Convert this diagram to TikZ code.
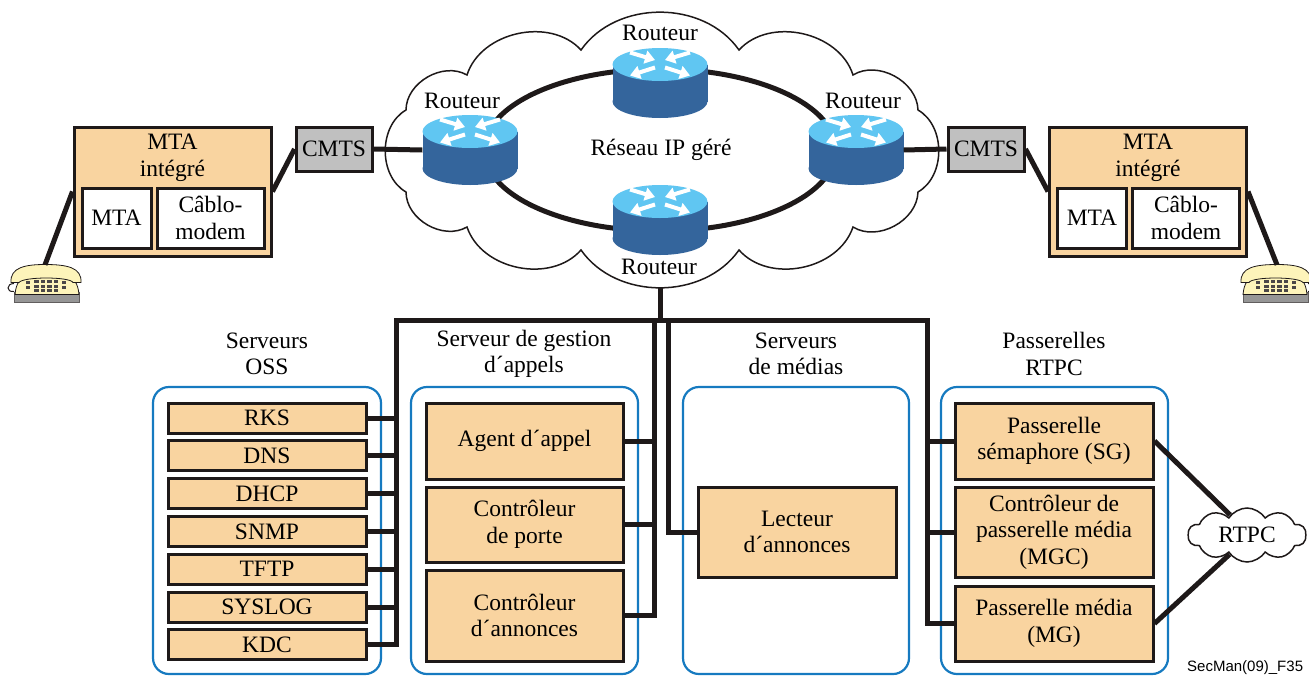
\documentclass[tikz,border=0pt]{standalone}
\usepackage{fontspec}
\setmainfont{Liberation Serif}
\newfontfamily\labelsans{Liberation Sans}
\usetikzlibrary{shapes.symbols, arrows.meta}

\definecolor{boxtan}{RGB}{249,212,160}
\definecolor{cmtsgray}{RGB}{192,192,192}
\definecolor{groupblue}{RGB}{22,122,192}
\definecolor{routertop}{RGB}{96,198,242}
\definecolor{routerside}{RGB}{52,101,156}
\definecolor{phonecream}{RGB}{253,244,186}
\definecolor{phonebase}{RGB}{150,150,150}
\definecolor{linedark}{RGB}{30,25,25}

\tikzset{
  bus/.style={draw=linedark, line width=5},
  itembox/.style={draw=linedark, line width=3, fill=boxtan, inner sep=0, align=center},
  whitebox/.style={draw=linedark, line width=3, fill=white, inner sep=0, align=center},
  cmtsbox/.style={draw=linedark, line width=3, fill=cmtsgray, inner sep=0},
  groupbox/.style={draw=groupblue, line width=2.2, rounded corners=16, inner sep=0},
  cloudline/.style={draw=linedark, line width=1.5, fill=white},
  rarrow/.style={white, line width=4, -{Triangle[width=13pt,length=10pt]}},
  plain/.style={inner sep=0, align=center},
}

% Router: blue cylinder with four white arrows on its top face
\newcommand\netrouter[3]{%
  \node[minimum width=95, minimum height=70, inner sep=0] (#1) at (#2,#3) {};
  \begin{scope}[shift={(#2,#3)}]
    \fill[routerside] (-47.5,-18.5) rectangle (47.5,18.5);
    \fill[routerside] (0,18.5) ellipse [x radius=47.5, y radius=16.5];
    \fill[routertop] (0,-18.5) ellipse [x radius=47.5, y radius=16.5];
    \draw[rarrow] (-30,-30.5) -- (-5,-23);
    \draw[rarrow] (-5,-15.5) -- (-30,-7.5);
    \draw[rarrow] (30,-30.5) -- (5,-23);
    \draw[rarrow] (5,-15.5) -- (30,-7.5);
  \end{scope}}

% Desk telephone; last argument 1 or -1 mirrors it
\newcommand\phoneicon[4]{%
  \node[minimum width=72, minimum height=37, inner sep=0] (#1) at (#2,#3) {};
  \begin{scope}[shift={(#2,#3)}, xscale=#4]
    \filldraw[fill=phonebase, draw=linedark!70, line width=0.6] (-31,9) rectangle (34,18.5);
    \filldraw[fill=phonecream, draw=linedark, line width=0.8]
      (-30,11) .. controls (-29,0) and (-25,-6) .. (-18,-7) -- (22,-7)
      .. controls (29,-6) and (33,0) .. (34,11) -- cycle;
    \filldraw[fill=phonecream, draw=linedark, line width=0.8]
      (-34,-1) .. controls (-35,-16) and (-20,-19) .. (0,-19)
      .. controls (22,-19) and (37,-16) .. (36,-1) -- (28,-1)
      .. controls (25,-7) and (-22,-7) .. (-26,-1) -- cycle;
    \foreach \i in {0,...,3}
      \foreach \j in {0,1,2}
        \fill[linedark!80] ({-11+6.5*\i},{-3.5+4.5*\j}) rectangle ++(4.5,3);
    \fill[linedark!80] (-19,-3) rectangle ++(4,3);
    \fill[linedark!80] (-19,2) rectangle ++(4,3);
    \fill[linedark!80] (17,-3) rectangle ++(4,3);
    \fill[linedark!80] (17,2) rectangle ++(4,3);
    \draw[linedark, line width=1] (-31,0) .. controls (-39,0) and (-39,9) .. (-31,8);
  \end{scope}}

\begin{document}
\begin{tikzpicture}[x=1pt, y=-1pt, font=\fontsize{23.5}{26.5}\selectfont]
\useasboundingbox (0,0) rectangle (1309,675);

% ---------- managed IP network ----------
\draw[cloudline] (581,50) to[bend left=55] (739,50) to[bend left=60] (853,75)
  to[bend left=60] (918,110) to[bend left=60] (918,192) to[bend left=60] (853,227)
  to[bend left=60] (739,250) to[bend left=55] (581,250) to[bend left=60] (467,227)
  to[bend left=60] (406,192) to[bend left=60] (406,110) to[bend left=60] (467,75)
  to[bend left=60] (581,50) -- cycle;
\coordinate (netS) at (660,287);

\draw[linedark, line width=5] (660,150) ellipse [x radius=176, y radius=81];

\netrouter{rT}{660}{83}
\netrouter{rL}{470}{150}
\netrouter{rR}{856}{150}
\netrouter{rB}{660}{220}

\node[plain] (lblT) at (660,33) {Routeur};
\node[plain] (lblL) at (462,101) {Routeur};
\node[plain] (lblR) at (863,101) {Routeur};
\node[plain] (lblB) at (659,267) {Routeur};
\node[plain] (ipnet) at (661,150) {Réseau IP géré};

% ---------- access side ----------
\node[cmtsbox, minimum width=76, minimum height=44] (cmtsL) at (334,149) {CMTS};
\node[cmtsbox, minimum width=76, minimum height=44] (cmtsR) at (986,149) {CMTS};

\node[itembox, minimum width=197, minimum height=129] (mtaL) at (172.5,191.5) {};
\node[plain] (mtaLt) at (172.5,158) {MTA\\intégré};
\node[whitebox, minimum width=69, minimum height=60] (mtaLa) at (116.5,218) {MTA};
\node[whitebox, minimum width=107, minimum height=60] (mtaLb) at (210.5,218) {Câblo-\\modem};

\node[itembox, minimum width=197, minimum height=129] (mtaR) at (1148,191.5) {};
\node[plain] (mtaRt) at (1148,158) {MTA\\intégré};
\node[whitebox, minimum width=69, minimum height=60] (mtaRa) at (1092,218) {MTA};
\node[whitebox, minimum width=107, minimum height=60] (mtaRb) at (1186,218) {Câblo-\\modem};

\phoneicon{phL}{45}{283.5}{1}
\phoneicon{phR}{1277}{283.5}{-1}

\draw[bus] (phL.north) -- (mtaL.west);
\draw[bus] (mtaL.east) -- (cmtsL.west);
\draw[bus] (cmtsL.east) -- (rL.west);
\draw[bus] (rR.east) -- (cmtsR.west);
\draw[bus] (cmtsR.east) -- (mtaR.west);
\draw[bus] (mtaR.east) -- (phR.north);

% ---------- server groups ----------
\node[groupbox, minimum width=228, minimum height=287] (gOSS) at (267,530.5) {};
\node[groupbox, minimum width=227, minimum height=287] (gCall) at (524.5,530.5) {};
\node[groupbox, minimum width=226, minimum height=287] (gMedia) at (796,530.5) {};
\node[groupbox, minimum width=227, minimum height=287] (gGw) at (1054.5,530.5) {};

\node[plain] (tOSS) at (267,354) {Serveurs\\OSS};
\node[plain] (tCall) at (524,354) {Serveur de gestion\\d´appels};
\node[plain] (tMedia) at (796,354) {Serveurs\\de médias};
\node[plain] (tGw) at (1054,354) {Passerelles\\RTPC};

\node[itembox, minimum width=198, minimum height=30] (rks) at (267,418) {RKS};
\node[itembox, minimum width=198, minimum height=30] (dns) at (267,455.8) {DNS};
\node[itembox, minimum width=198, minimum height=30] (dhcp) at (267,493.6) {DHCP};
\node[itembox, minimum width=198, minimum height=30] (snmp) at (267,531.4) {SNMP};
\node[itembox, minimum width=198, minimum height=30] (tftp) at (267,569.2) {TFTP};
\node[itembox, minimum width=198, minimum height=30] (syslog) at (267,607) {SYSLOG};
\node[itembox, minimum width=198, minimum height=30] (kdc) at (267,644.8) {KDC};

\node[itembox, minimum width=197, minimum height=76] (agent) at (524.5,441) {Agent d´appel};
\node[itembox, minimum width=197, minimum height=75] (porte) at (524.5,524.5) {Contrôleur\\de porte};
\node[itembox, minimum width=197, minimum height=91] (annc) at (524.5,615.5) {Contrôleur\\d´annonces};

\node[itembox, minimum width=198, minimum height=90] (lecteur) at (797,532) {Lecteur\\d´annonces};

\node[itembox, minimum width=198, minimum height=76] (sg) at (1054,441) {Passerelle\\sémaphore (SG)};
\node[itembox, minimum width=198, minimum height=90] (mgc) at (1054,532) {Contrôleur de\\passerelle média\\(MGC)};
\node[itembox, minimum width=198, minimum height=75] (mg) at (1054,623.5) {Passerelle média\\(MG)};

\node[cloud, cloudline, cloud puffs=10, cloud puff arc=115, aspect=2.2,
      minimum width=118, minimum height=54, inner sep=2] (rtpc) at (1247,535) {RTPC};
\draw[bus] (sg.east) -- (rtpc.130);
\draw[bus] (mg.east) -- (rtpc.228);

% ---------- distribution bus ----------
\coordinate (busL) at (396,320);
\coordinate (busR) at (927,320);
\coordinate (busC) at (654,320);
\coordinate (busM) at (668,320);
\coordinate (netB) at (660,320);

\draw[bus] (netS) -- (netB);
\draw[bus] (kdc.east) -| (busL) -- (busR) |- (mg.west);
\foreach \n in {rks,dns,dhcp,snmp,tftp,syslog}
  \draw[bus] (\n.east) -- (\n.east -| busL);
\draw[bus] (annc.east) -| (busC);
\draw[bus] (agent.east) -- (agent.east -| busC);
\draw[bus] (porte.east) -- (porte.east -| busC);
\draw[bus] (lecteur.west) -| (busM);
\draw[bus] (sg.west) -- (sg.west -| busR);
\draw[bus] (mgc.west) -- (mgc.west -| busR);

\node[anchor=base west, inner sep=0, font=\labelsans\fontsize{15}{17}\selectfont] (figref) at (1187,671) {SecMan(09)\_F35};
\end{tikzpicture}
\end{document}
